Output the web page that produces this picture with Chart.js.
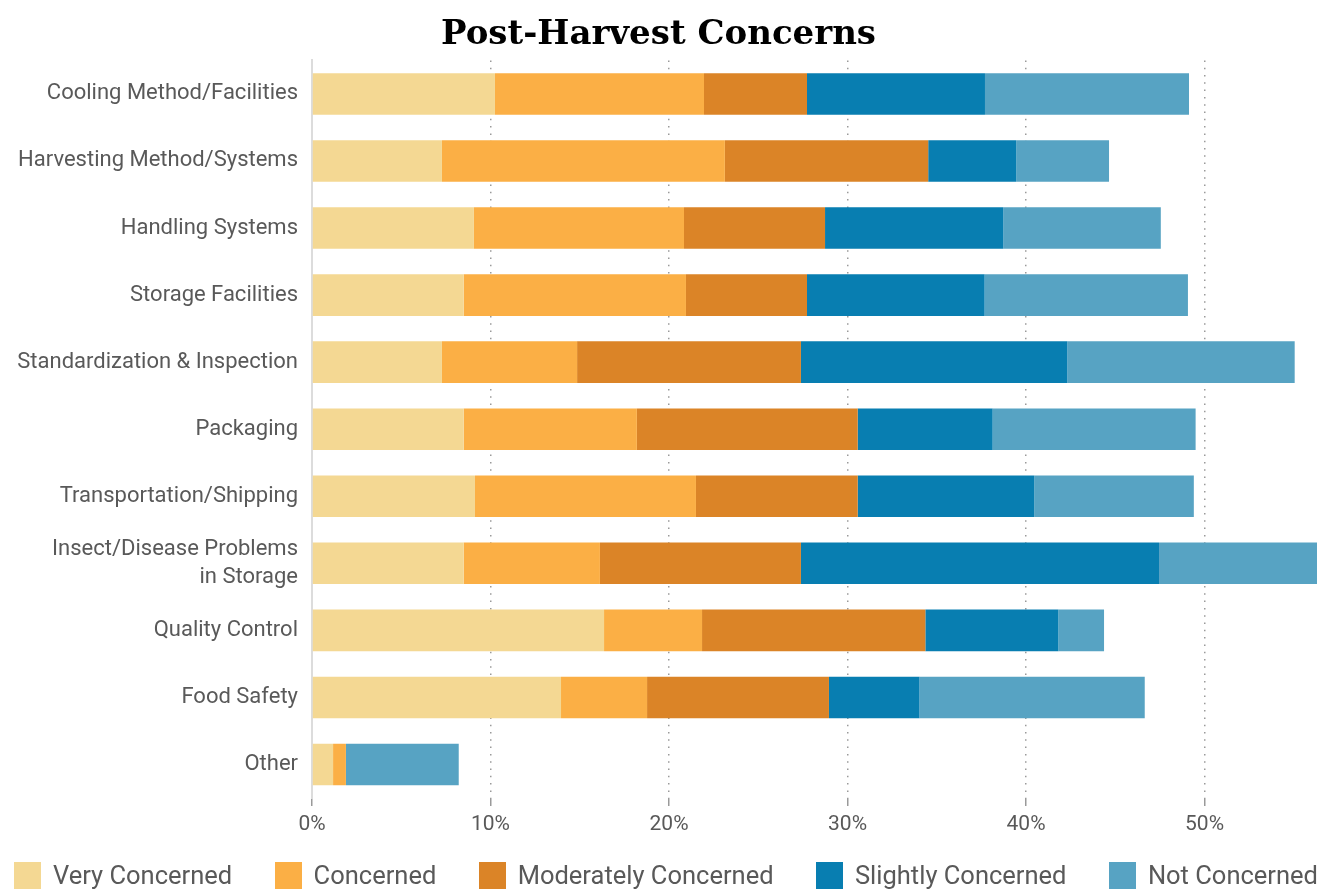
<!DOCTYPE html>
<html>
<head>
<meta charset="utf-8">
<title>Post-Harvest Concerns</title>
<script src="https://cdn.jsdelivr.net/npm/chart.js@4/dist/chart.umd.min.js"></script>
<style>
  html, body { margin: 0; padding: 0; background: #fff; }
  #wrap { position: relative; width: 1324px; height: 895px; }
  #legend {
    position: absolute; left: 14px; top: 862px; width: 1304px; height: 27px;
    display: flex; justify-content: space-between; align-items: center;
    font: 25.5px Roboto, "Liberation Sans", sans-serif; color: #595959; line-height: 27px;
  }
  #legend .item { display: flex; align-items: center; white-space: nowrap; }
  #legend .swatch { width: 27px; height: 27px; margin-right: 12px; }
</style>
</head>
<body>
<div id="wrap">
  <canvas id="concernsChart"></canvas>
  <div id="legend"></div>
</div>
<script>
const categories = [
    'Cooling Method/Facilities',
    'Harvesting Method/Systems',
    'Handling Systems',
    'Storage Facilities',
    'Standardization & Inspection',
    'Packaging',
    'Transportation/Shipping',
    ['Insect/Disease Problems', 'in Storage'],
    'Quality Control',
    'Food Safety',
    'Other'
];
const seriesNames = ['Very Concerned', 'Concerned', 'Moderately Concerned', 'Slightly Concerned', 'Not Concerned'];

// share of respondents (%) per concern level
const veryConcerned       = [10.25, 7.28, 9.07, 8.50, 7.28, 8.50, 9.13, 8.50, 16.36, 13.95, 1.18];
const concerned           = [11.71, 15.85, 11.77, 12.45, 7.57, 9.70, 12.38, 7.63, 5.49, 4.82, 0.72];
const moderatelyConcerned = [5.77, 11.39, 7.90, 6.78, 12.54, 12.37, 9.06, 11.26, 12.51, 10.19, 0];
const slightlyConcerned   = [9.97, 4.93, 9.99, 9.95, 14.92, 7.56, 9.89, 20.06, 7.45, 5.07, 0];
const notConcerned        = [11.43, 5.20, 8.82, 11.39, 12.74, 11.37, 8.94, 8.85, 2.56, 12.62, 6.32];

const xTicks = [0, 10, 20, 30, 40, 50];
const xMax = 56.3;

document.addEventListener('DOMContentLoaded', function () {
    const sans = 'Roboto, "Liberation Sans", sans-serif';
    const textGray = '#595959';
    const colors = ['#F4D893', '#FBAF45', '#DB8427', '#087EB1', '#57A3C3'];
    const values = [veryConcerned, concerned, moderatelyConcerned, slightlyConcerned, notConcerned];

    // legend is built as html under the canvas so the items can span the full width
    const htmlLegend = {
        id: 'htmlLegend',
        afterUpdate(chart) {
            const box = document.getElementById('legend');
            box.innerHTML = '';
            chart.data.datasets.forEach(ds => {
                const item = document.createElement('div');
                item.className = 'item';
                const swatch = document.createElement('span');
                swatch.className = 'swatch';
                swatch.style.background = ds.backgroundColor;
                const text = document.createElement('span');
                text.textContent = ds.label;
                item.appendChild(swatch);
                item.appendChild(text);
                box.appendChild(item);
            });
        }
    };

    const ctx = document.getElementById('concernsChart').getContext('2d');
    new Chart(ctx, {
        type: 'bar',
        data: {
            labels: categories,
            datasets: seriesNames.map((name, i) => ({
                label: name,
                data: values[i],
                backgroundColor: colors[i],
                borderWidth: 0,
                categoryPercentage: 1,
                barPercentage: 0.62
            }))
        },
        options: {
            indexAxis: 'y',
            responsive: true,
            maintainAspectRatio: false,
            animation: false,
            layout: { padding: { left: 0, right: 7, top: 0, bottom: 45 } },
            scales: {
                x: {
                    stacked: true,
                    min: 0,
                    max: xMax,
                    afterBuildTicks: scale => {
                        scale.ticks = xTicks.map(v => ({ value: v }));
                    },
                    afterFit: scale => { scale.height = 52; },
                    ticks: {
                        callback: v => v + '%',
                        color: textGray,
                        font: { family: sans, size: 21 },
                        padding: 6
                    },
                    grid: {
                        color: '#9a9a9a',
                        lineWidth: 1.5,
                        tickLength: 8
                    },
                    border: { display: false, dash: [1.5, 5.8] }
                },
                y: {
                    stacked: true,
                    afterFit: scale => { scale.width = 312; },
                    ticks: {
                        autoSkip: false,
                        color: textGray,
                        font: { family: sans, size: 22, lineHeight: 1.27 },
                        padding: 14
                    },
                    grid: { display: false, drawTicks: false },
                    border: { display: true, color: '#dcdcdc', width: 2 }
                }
            },
            plugins: {
                title: {
                    display: true,
                    text: 'Post-Harvest Concerns',
                    color: '#000',
                    font: { family: '"DejaVu Serif", serif', size: 34, weight: 'bold', lineHeight: 1.1 },
                    padding: { top: 16, bottom: 7 }
                },
                legend: { display: false },
                tooltip: { enabled: false }
            }
        },
        plugins: [htmlLegend]
    });
});
</script>
</body>
</html>
